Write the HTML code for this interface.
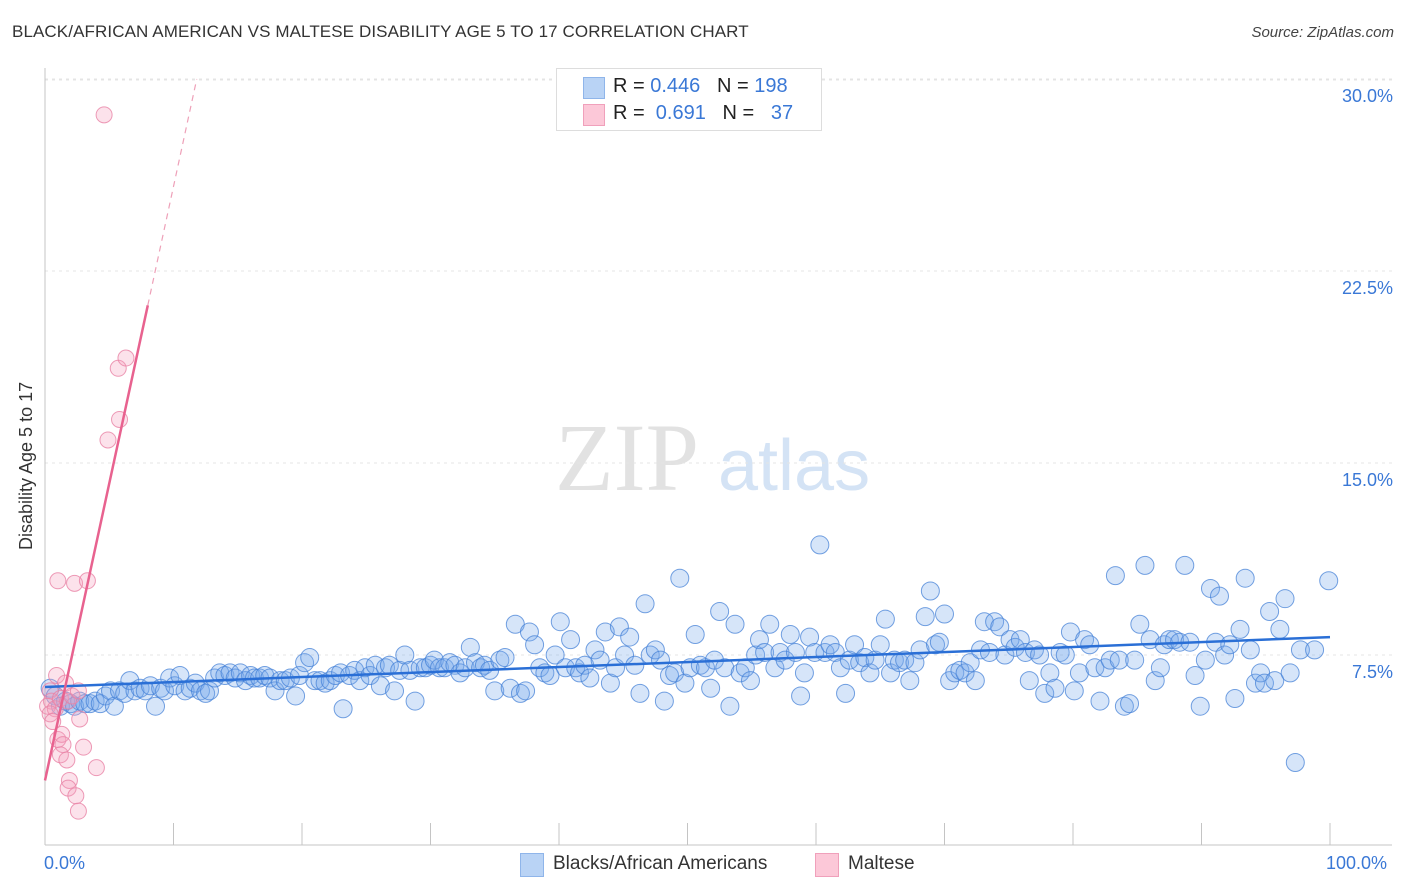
<!DOCTYPE html>
<html><head><meta charset="utf-8">
<style>
body{margin:0;background:#fff;font-family:"Liberation Sans",sans-serif;}
#wrap{position:relative;width:1406px;height:892px;overflow:hidden;}
.t{position:absolute;white-space:nowrap;}
</style></head>
<body>
<div id="wrap">
<div class="t" style="left:12px;top:22px;font-size:17px;color:#333;letter-spacing:0.1px">BLACK/AFRICAN AMERICAN VS MALTESE DISABILITY AGE 5 TO 17 CORRELATION CHART</div>
<div class="t" style="right:12px;top:24px;font-size:15px;color:#444;font-style:italic">Source: ZipAtlas.com</div>
<svg id="svg" width="1406" height="892" style="position:absolute;left:0;top:0"></svg>
<div class="t" style="left:556px;top:68px;width:264px;height:61px;border:1px solid #ddd;background:#fff;">
  <div style="position:absolute;left:26px;top:8px;width:20px;height:20px;background:#b9d3f5;border:1px solid #8fb5ea"></div>
  <div style="position:absolute;left:26px;top:35px;width:20px;height:20px;background:#fcc8d8;border:1px solid #f0a0bb"></div>
  <div class="t" style="left:56px;top:6px;font-size:20px;color:#222">R = <span style="color:#3a78d6">0.446</span>&nbsp;&nbsp;&nbsp;N = <span style="color:#3a78d6">198</span></div>
  <div class="t" style="left:56px;top:33px;font-size:20px;color:#222">R = &nbsp;<span style="color:#3a78d6">0.691</span>&nbsp;&nbsp;&nbsp;N = &nbsp;&nbsp;<span style="color:#3a78d6">37</span></div>
</div>
<div class="t" style="left:520px;top:853px;width:22px;height:22px;background:#b9d3f5;border:1px solid #8fb5ea"></div>
<div class="t" style="left:553px;top:853px;font-size:19px;color:#333">Blacks/African Americans</div>
<div class="t" style="left:815px;top:853px;width:22px;height:22px;background:#fcc8d8;border:1px solid #f0a0bb"></div>
<div class="t" style="left:848px;top:853px;font-size:19px;color:#333">Maltese</div>
<div class="t" style="left:16px;top:550px;font-size:18px;color:#333;transform:rotate(-90deg);transform-origin:0 0">Disability Age 5 to 17</div>
<div class="t" style="left:44px;top:853px;font-size:18px;color:#3a78d6">0.0%</div>
<div class="t" style="left:1326px;top:853px;font-size:18px;color:#3a78d6">100.0%</div>
</div>
<script>
const yTicks=[30,22.5,15,7.5];
const yTickLabels=["30.0%","22.5%","15.0%","7.5%"];
const xTicks=[0,10,20,30,40,50,60,70,80,90,100];
const blueX=[0.4,0.8,1.2,1.6,2.0,2.3,2.7,3.1,3.5,3.9,4.3,4.7,5.1,5.4,5.8,6.2,6.6,7.0,7.4,7.8,8.2,8.6,9.0,9.3,9.7,10.1,10.5,10.9,11.3,11.7,12.1,12.5,12.8,13.2,13.6,14.0,14.4,14.8,15.2,15.6,16.0,16.3,16.7,17.1,17.5,17.9,18.3,18.7,19.1,19.5,19.8,20.2,20.6,21.0,21.4,21.8,22.2,22.6,23.0,23.2,23.7,24.1,24.5,24.9,25.3,25.7,26.1,26.5,26.8,27.2,27.6,28.0,28.4,28.8,29.2,29.6,30.0,30.3,30.7,31.1,31.5,31.9,32.3,32.7,33.1,33.5,33.9,34.2,34.6,35.0,35.4,35.8,36.2,36.6,37.0,37.4,37.7,38.1,38.5,38.9,39.3,39.7,40.1,40.5,40.9,41.3,41.6,42.0,42.4,42.8,43.2,43.6,44.0,44.4,44.7,45.1,45.5,45.9,46.3,46.7,47.1,47.5,47.9,48.2,48.6,49.0,49.4,49.8,50.2,50.6,51.0,51.4,51.8,52.1,52.5,52.9,53.3,53.7,54.1,54.5,54.9,55.3,55.6,56.0,56.4,56.8,57.2,57.6,58.0,58.4,58.8,59.1,59.5,59.9,60.3,60.7,61.1,61.5,61.9,62.3,62.6,63.0,63.4,63.8,64.2,64.6,65.0,65.4,65.8,66.1,66.5,66.9,67.3,67.7,68.1,68.5,68.9,69.3,69.6,70.0,70.4,70.8,71.2,71.6,72.0,72.4,72.8,73.1,73.5,73.9,74.3,74.7,75.1,75.5,75.9,76.3,76.6,77.0,77.4,77.8,78.2,78.6,79.0,79.4,79.8,80.1,80.5,80.9,81.3,81.7,82.1,82.5,82.9,83.3,83.6,84.0,84.4,84.8,85.2,85.6,86.0,86.4,86.8,87.1,87.5,87.9,88.3,88.7,89.1,89.5,89.9,90.3,90.7,91.1,91.4,91.8,92.2,92.6,93.0,93.4,93.8,94.2,94.6,94.9,95.3,95.7,96.1,96.5,96.9,97.3,97.7,98.8,99.9];
const blueY=[6.2,5.9,5.5,5.7,5.6,5.5,5.7,5.6,5.6,5.7,5.6,5.9,6.1,5.5,6.1,6.0,6.5,6.1,6.2,6.1,6.3,5.5,6.2,6.1,6.6,6.3,6.7,6.1,6.2,6.4,6.1,6.0,6.1,6.6,6.8,6.7,6.8,6.6,6.8,6.5,6.7,6.6,6.6,6.7,6.6,6.1,6.5,6.5,6.6,5.9,6.7,7.2,7.4,6.5,6.5,6.4,6.5,6.7,6.8,5.4,6.7,6.9,6.5,7.0,6.7,7.1,6.3,7.0,7.1,6.1,6.9,7.5,6.9,5.7,7.0,7.0,7.1,7.3,7.0,7.0,7.2,7.1,6.8,7.0,7.8,7.2,7.0,7.1,6.9,6.1,7.3,7.4,6.2,8.7,6.0,6.1,8.4,7.9,7.0,6.8,6.7,7.5,8.8,7.0,8.1,7.0,6.8,7.1,6.6,7.7,7.3,8.4,6.4,7.0,8.6,7.5,8.2,7.1,6.0,9.5,7.5,7.7,7.3,5.7,6.7,6.8,10.5,6.4,7.0,8.3,7.1,7.0,6.2,7.3,9.2,7.0,5.5,8.7,6.8,7.0,6.5,7.5,8.1,7.6,8.7,7.0,7.6,7.3,8.3,7.6,5.9,6.8,8.2,7.6,11.8,7.6,7.9,7.6,7.0,6.0,7.3,7.9,7.2,7.4,6.8,7.3,7.9,8.9,6.8,7.3,7.2,7.3,6.5,7.2,7.7,9.0,10.0,7.9,8.0,9.1,6.5,6.8,6.9,6.8,7.2,6.5,7.7,8.8,7.6,8.8,8.6,7.5,8.1,7.8,8.1,7.6,6.5,7.7,7.5,6.0,6.8,6.2,7.6,7.5,8.4,6.1,6.8,8.1,7.9,7.0,5.7,7.0,7.3,10.6,7.3,5.5,5.6,7.3,8.7,11.0,8.1,6.5,7.0,7.9,8.1,8.1,8.0,11.0,8.0,6.7,5.5,7.3,10.1,8.0,9.8,7.5,7.9,5.8,8.5,10.5,7.7,6.4,6.8,6.4,9.2,6.5,8.5,9.7,6.8,3.3,7.7,7.7,10.4];
const pinkX=[4.6,5.7,6.3,5.8,4.9,1.0,2.3,3.3,0.9,0.4,0.5,0.2,0.8,0.4,1.2,1.6,1.8,2.1,2.6,2.7,0.6,1.0,1.3,1.4,1.2,1.7,3.0,1.9,1.8,2.4,2.6,4.0];
const pinkY=[28.6,18.7,19.1,16.7,15.9,10.4,10.3,10.4,6.7,6.1,5.7,5.5,5.4,5.2,5.8,6.4,5.7,5.9,6.1,5.0,4.9,4.2,4.4,4.0,3.6,3.4,3.9,2.6,2.3,2.0,1.4,3.1];
const blueTrend=[6.25,8.2];
const pinkTrend=[2.6,2.32];

const NS="http://www.w3.org/2000/svg";
const svg=document.getElementById('svg');
const X=v=>45+v*12.85;
const Y=v=>847-v*25.6;
function mk(tag,attrs){const e=document.createElementNS(NS,tag);for(const k in attrs)e.setAttribute(k,attrs[k]);svg.appendChild(e);return e;}

const wm=mk('text',{x:555,y:490,'font-size':96,'font-family':'Liberation Serif, serif',fill:'#e2e2e2'});
wm.textContent='ZIP';


const wm2=mk('text',{x:718,y:490,'font-size':72,'font-family':'Liberation Sans, sans-serif',fill:'#d4e3f5'});
wm2.textContent='atlas';



const topGrid=mk('line',{x1:45,x2:1392,y1:80,y2:80,stroke:'#e4e4e4','stroke-dasharray':'3,4'});


yTicks.forEach((t,i)=>{
  const g=mk('line',{x1:45,x2:1392,y1:Y(t),y2:Y(t),stroke:'#e4e4e4','stroke-dasharray':'3,4'});
  
  
  const l=mk('text',{x:1393,y:Y(t)+23,'text-anchor':'end','font-size':18,fill:'#3a78d6','font-family':'Liberation Sans, sans-serif'});
  l.textContent=yTickLabels[i];
  
  
});
const axX=mk('line',{x1:45,x2:1392,y1:845,y2:845,stroke:'#c4c4c4'});


const axY=mk('line',{x1:45,x2:45,y1:68,y2:845,stroke:'#c4c4c4'});


xTicks.forEach(t=>{
  const k=mk('line',{x1:X(t),x2:X(t),y1:823,y2:845,stroke:'#c4c4c4'});
  
  
});
blueX.forEach((x,i)=>{
  const c=mk('circle',{cx:X(x),cy:Y(blueY[i]),r:9,fill:'rgba(120,170,235,0.3)',stroke:'rgba(70,130,215,0.75)','stroke-width':1});
  
  
});
pinkX.forEach((x,i)=>{
  const c=mk('circle',{cx:X(x),cy:Y(pinkY[i]),r:8,fill:'rgba(245,160,190,0.3)',stroke:'rgba(232,130,165,0.8)','stroke-width':1});
  
  
});
const bl=mk('line',{x1:X(0),x2:X(100),y1:Y(blueTrend[0]),y2:Y(blueTrend[1]),stroke:'#2a6fd6','stroke-width':2.5});


const pf=x=>pinkTrend[0]+pinkTrend[1]*x;
const xEnd=(30-pinkTrend[0])/pinkTrend[1];
const pl=mk('line',{x1:X(0),x2:X(8),y1:Y(pf(0)),y2:Y(pf(8)),stroke:'#e8628f','stroke-width':2.5});


const pd=mk('line',{x1:X(8),x2:X(xEnd),y1:Y(pf(8)),y2:Y(30),stroke:'#eea0b8','stroke-width':1.2,'stroke-dasharray':'6,5'});


</script>
</body></html>
